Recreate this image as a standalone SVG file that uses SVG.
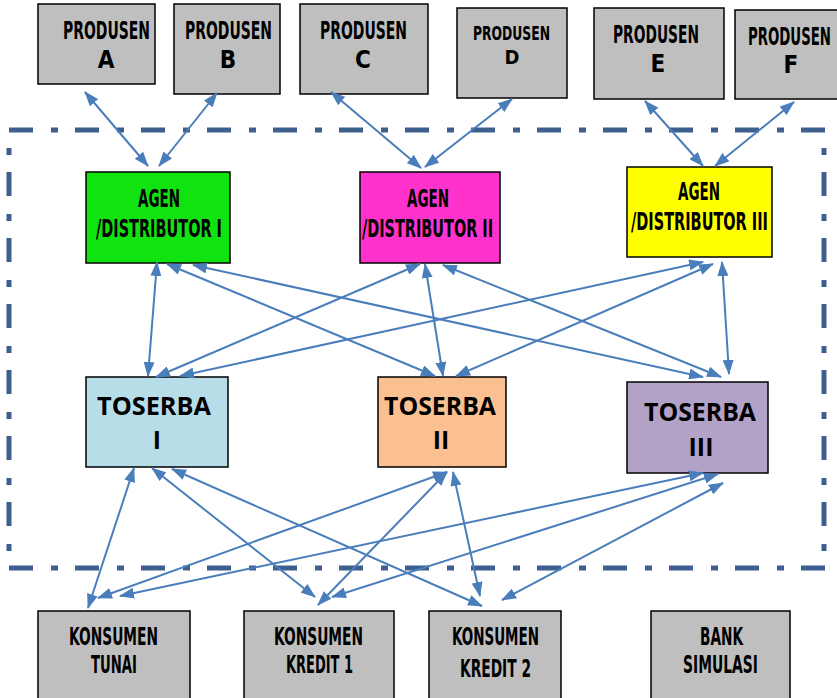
<svg xmlns="http://www.w3.org/2000/svg" width="837" height="698" viewBox="0 0 837 698">
<style>
.box{stroke:#000;stroke-width:1.5}
.gray{fill:#BFBFBF}
.c{font-family:"DejaVu Sans Condensed","DejaVu Sans",sans-serif;font-weight:bold;font-size:24px;fill:#000}
.t{font-family:"Open Sans","Liberation Sans",Arial,sans-serif;font-weight:bold;font-size:25px;fill:#000}
.m{text-anchor:middle}
.bd{fill:none;stroke:#3C5F8E;stroke-width:5;stroke-dasharray:24 18 7 17}
.cn line{stroke:#4A7EBB;stroke-width:2;marker-start:url(#ah);marker-end:url(#ah)}
</style>
<defs>
<marker id="ah" markerUnits="userSpaceOnUse" markerWidth="15" markerHeight="11" viewBox="0 0 15 11" refX="14" refY="5.5" orient="auto-start-reverse">
<path d="M0,0 L15,5.5 L0,11 z" fill="#4A7EBB"/>
</marker>
</defs>
<rect width="837" height="698" fill="#fff"/>

<g id="border">
<path class="bd" d="M9,130 H826"/>
<path class="bd" d="M9,130 V568" stroke-dashoffset="24"/>
<path class="bd" d="M9,568 H828"/>
<path class="bd" d="M824,130 V568" stroke-dashoffset="24"/>
</g>

<g id="produsen-a"><rect class="box gray" x="38" y="4" width="117" height="80"/>
<text class="c" x="63" y="39" textLength="87" lengthAdjust="spacingAndGlyphs">PRODUSEN</text>
<text class="c m" x="106" y="68">A</text></g>
<g id="produsen-b"><rect class="box gray" x="174" y="4" width="106" height="90"/>
<text class="c" x="185" y="39" textLength="87" lengthAdjust="spacingAndGlyphs">PRODUSEN</text>
<text class="c m" x="228" y="68">B</text></g>
<g id="produsen-c"><rect class="box gray" x="300" y="4" width="128" height="90"/>
<text class="c" x="320" y="39" textLength="87" lengthAdjust="spacingAndGlyphs">PRODUSEN</text>
<text class="c m" x="363" y="68">C</text></g>
<g id="produsen-d"><rect class="box gray" x="457" y="8" width="110" height="90"/>
<text class="c" x="473" y="40" style="font-size:20px" textLength="77" lengthAdjust="spacingAndGlyphs">PRODUSEN</text>
<text class="c m" x="512" y="64" style="font-size:20px">D</text></g>
<g id="produsen-e"><rect class="box gray" x="594" y="8" width="130" height="91"/>
<text class="c" x="613" y="43" textLength="86" lengthAdjust="spacingAndGlyphs">PRODUSEN</text>
<text class="c m" x="658" y="72">E</text></g>
<g id="produsen-f"><rect class="box gray" x="735" y="10" width="110" height="89"/>
<text class="c" x="748" y="45" textLength="83" lengthAdjust="spacingAndGlyphs">PRODUSEN</text>
<text class="c m" x="791" y="73">F</text></g>

<g id="agen-1"><rect class="box" fill="#11E311" x="86" y="172" width="144" height="91"/>
<text class="c" x="138" y="207" textLength="42" lengthAdjust="spacingAndGlyphs">AGEN</text>
<text class="c" x="96" y="237" textLength="126" lengthAdjust="spacingAndGlyphs">/DISTRIBUTOR I</text></g>
<g id="agen-2"><rect class="box" fill="#FF33CC" x="360" y="172" width="140" height="91"/>
<text class="c" x="407" y="207" textLength="42" lengthAdjust="spacingAndGlyphs">AGEN</text>
<text class="c" x="362" y="237" textLength="131" lengthAdjust="spacingAndGlyphs">/DISTRIBUTOR II</text></g>
<g id="agen-3"><rect class="box" fill="#FFFF00" x="627" y="167" width="145" height="90"/>
<text class="c" x="678" y="200" textLength="42" lengthAdjust="spacingAndGlyphs">AGEN</text>
<text class="c" x="631" y="230" textLength="137" lengthAdjust="spacingAndGlyphs">/DISTRIBUTOR III</text></g>

<g id="toserba-1"><rect class="box" fill="#B7DDE8" x="86" y="377" width="142" height="90"/>
<text class="t" x="97" y="415" textLength="114" lengthAdjust="spacingAndGlyphs">TOSERBA</text>
<text class="t m" x="157" y="449">I</text></g>
<g id="toserba-2"><rect class="box" fill="#FAC090" x="378" y="377" width="128" height="90"/>
<text class="t" x="384" y="415" textLength="112" lengthAdjust="spacingAndGlyphs">TOSERBA</text>
<text class="t m" x="441" y="449">II</text></g>
<g id="toserba-3"><rect class="box" fill="#B2A2C7" x="627" y="382" width="141" height="91"/>
<text class="t" x="644" y="421" textLength="112" lengthAdjust="spacingAndGlyphs">TOSERBA</text>
<text class="t m" x="701" y="456">III</text></g>

<g id="konsumen-tunai"><rect class="box gray" x="38" y="611" width="152" height="100"/>
<text class="c" x="69" y="645" textLength="89" lengthAdjust="spacingAndGlyphs">KONSUMEN</text>
<text class="c" x="91" y="673" textLength="46" lengthAdjust="spacingAndGlyphs">TUNAI</text></g>
<g id="konsumen-kredit-1"><rect class="box gray" x="244" y="611" width="150" height="100"/>
<text class="c" x="274" y="645" textLength="89" lengthAdjust="spacingAndGlyphs">KONSUMEN</text>
<text class="c" x="286" y="673" textLength="67" lengthAdjust="spacingAndGlyphs">KREDIT 1</text></g>
<g id="konsumen-kredit-2"><rect class="box gray" x="429" y="611" width="132" height="100"/>
<text class="c" x="452" y="645" textLength="87" lengthAdjust="spacingAndGlyphs">KONSUMEN</text>
<text class="c" x="460" y="677" textLength="71" lengthAdjust="spacingAndGlyphs">KREDIT 2</text></g>
<g id="bank-simulasi"><rect class="box gray" x="651" y="611" width="139" height="100"/>
<text class="c" x="700" y="645" textLength="43" lengthAdjust="spacingAndGlyphs">BANK</text>
<text class="c" x="683" y="673" textLength="75" lengthAdjust="spacingAndGlyphs">SIMULASI</text></g>

<g id="connectors" class="cn">
<line x1="85" y1="92" x2="148" y2="166"/>
<line x1="217" y1="93" x2="159" y2="166"/>
<line x1="331" y1="92" x2="421" y2="168"/>
<line x1="512" y1="99" x2="425" y2="167"/>
<line x1="645" y1="101" x2="703" y2="166"/>
<line x1="794" y1="102" x2="715" y2="166"/>

<line x1="157" y1="262" x2="148" y2="376"/>
<line x1="167" y1="264" x2="435" y2="376"/>
<line x1="193" y1="265" x2="703" y2="377"/>
<line x1="420" y1="264" x2="156" y2="377"/>
<line x1="425" y1="264" x2="443" y2="376"/>
<line x1="443" y1="265" x2="721" y2="377"/>
<line x1="703" y1="262" x2="180" y2="376"/>
<line x1="713" y1="264" x2="456" y2="376"/>
<line x1="722" y1="262" x2="729" y2="374"/>

<line x1="134" y1="468" x2="88" y2="608"/>
<line x1="152" y1="468" x2="315" y2="597"/>
<line x1="172" y1="469" x2="482" y2="606"/>
<line x1="447" y1="472" x2="98" y2="598"/>
<line x1="447" y1="472" x2="318" y2="605"/>
<line x1="453" y1="472" x2="480" y2="596"/>
<line x1="703" y1="473" x2="120" y2="596"/>
<line x1="718" y1="474" x2="332" y2="597"/>
<line x1="723" y1="483" x2="502" y2="600"/>
</g>
</svg>
